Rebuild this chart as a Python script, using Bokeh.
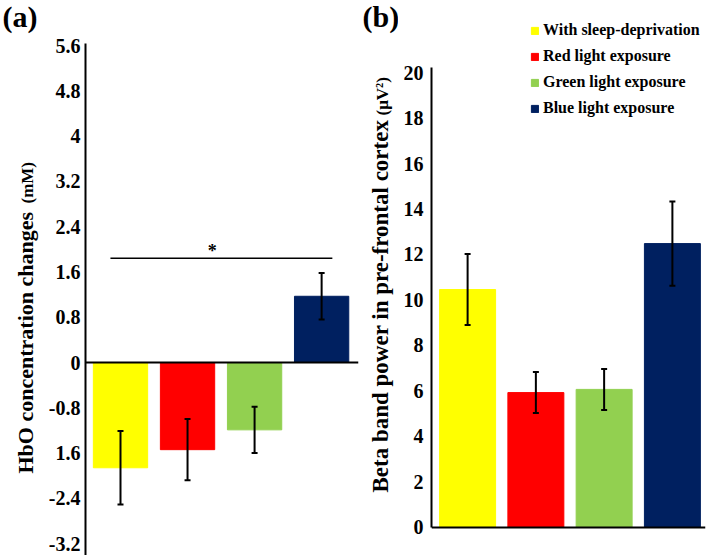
import math
from bokeh.plotting import figure
from bokeh.layouts import row
from bokeh.models import Range1d, FixedTicker, Span, Whisker, ColumnDataSource, TeeHead
from bokeh.core.properties import value
from bokeh.embed import file_html
from bokeh.resources import INLINE

# ---------------- data ----------------
conditions = ["With sleep-deprivation", "Red light exposure",
              "Green light exposure", "Blue light exposure"]
bar_colors = ["#FFFF00", "#FF0000", "#92D050", "#002060"]
positions = [1, 2, 3, 4]

hbo_mean = [-1.86, -1.54, -1.19, 1.17]
hbo_err = [0.65, 0.54, 0.41, 0.41]

beta_mean = [10.46, 5.93, 6.07, 12.48]
beta_err = [1.56, 0.90, 0.90, 1.85]

hbo_ticks = [-3.2, -2.4, -1.6, -0.8, 0, 0.8, 1.6, 2.4, 3.2, 4, 4.8, 5.6]
hbo_tick_labels = ["-3.2", "-2.4", "1.6", "-0.8", "0", "0.8", "1.6",
                   "2.4", "3.2", "4", "4.8", "5.6"]
beta_ticks = [0, 2, 4, 6, 8, 10, 12, 14, 16, 18, 20]

sig_y = 1.84
sig_x = [0.85, 4.16]
star_x = 2.37

SERIF = "Liberation Serif"
H = 555


def style_axis(p, standoff):
    ax = p.yaxis[0]
    ax.axis_line_width = 2
    ax.axis_line_color = "black"
    ax.major_tick_line_color = None
    ax.minor_tick_line_color = None
    ax.major_tick_in = 0
    ax.major_tick_out = 0
    ax.minor_tick_in = 0
    ax.minor_tick_out = 0
    ax.major_label_standoff = standoff
    ax.major_label_text_font = SERIF
    ax.major_label_text_font_style = "bold"
    ax.major_label_text_font_size = "20px"
    ax.major_label_text_color = "black"


def strip(width):
    s = figure(width=width, height=H, output_backend="svg", toolbar_location=None,
               x_range=Range1d(0, width), y_range=Range1d(0, H),
               x_axis_location=None, y_axis_location=None, title=None,
               min_border=0)
    s.grid.visible = False
    s.outline_line_color = None
    return s


def txt(p, x, y, t, size, angle=0.0):
    p.text(x=[x], y=[y], text=[t], angle=angle, text_font=value(SERIF),
           text_font_style="bold", text_font_size=size, text_align="left",
           text_baseline="alphabetic", text_color="black")


# ---------------- label strip (a) ----------------
sa = strip(42)
txt(sa, 2, 539, "(a)", "30px")
txt(sa, 25, 82, "HbO concentration changes", "22px", math.pi / 2)
txt(sa, 27, 352, "(mM)", "17px", math.pi / 2)

# ---------------- panel (a) ----------------
pa = figure(width=317, height=H, output_backend="svg", toolbar_location=None,
            x_range=Range1d(0.478, 4.55), y_range=Range1d(-3.41, 6.396),
            x_axis_location=None, title=None,
            min_border_left=43, min_border_right=1, min_border_top=0,
            min_border_bottom=0)
pa.grid.visible = False
pa.outline_line_color = None
pa.yaxis.ticker = FixedTicker(ticks=hbo_ticks)
pa.yaxis.major_label_overrides = dict(zip(hbo_ticks, hbo_tick_labels))
pa.yaxis.bounds = (-3.41, 5.636)
style_axis(pa, 5)

src_a = ColumnDataSource(dict(x=positions, top=hbo_mean, color=bar_colors,
                              upper=[m + e for m, e in zip(hbo_mean, hbo_err)],
                              lower=[m - e for m, e in zip(hbo_mean, hbo_err)]))
pa.vbar(x="x", top="top", bottom=0, width=0.81, color="color", source=src_a)
pa.add_layout(Span(location=0, dimension="width", line_color="black", line_width=2))
pa.add_layout(Whisker(source=src_a, base="x", upper="upper", lower="lower",
                      line_width=2, line_color="black", level="overlay",
                      upper_head=TeeHead(size=6, line_width=2, line_color="black"),
                      lower_head=TeeHead(size=6, line_width=2, line_color="black")))
pa.line(x=sig_x, y=[sig_y, sig_y], line_color="black", line_width=1.5)
pa.text(x=[star_x], y=[sig_y], text=["*"], text_font=value(SERIF),
        text_font_style="bold", text_font_size="18px", text_align="center",
        text_baseline="alphabetic", text_color="black", y_offset=-7)

# ---------------- label strip (b) ----------------
sb = strip(39)
txt(sb, 3, 539, "(b)", "30px")
txt(sb, 21, 63, "Beta band power in pre-frontal cortex", "23px", math.pi / 2)
txt(sb, 23, 440, "(μV²)", "17px", math.pi / 2)

# ---------------- panel (b) ----------------
pb = figure(width=314, height=H, output_backend="svg", toolbar_location=None,
            x_range=Range1d(0.471, 4.485), y_range=Range1d(-1.231, 23.165),
            x_axis_location=None, title=None,
            min_border_left=33, min_border_right=7, min_border_top=0,
            min_border_bottom=0)
pb.grid.visible = False
pb.outline_line_color = None
pb.yaxis.ticker = FixedTicker(ticks=beta_ticks)
pb.yaxis.bounds = (0, 20.22)
style_axis(pb, 8)

src_b = ColumnDataSource(dict(x=positions, top=beta_mean, color=bar_colors,
                              label=conditions,
                              upper=[m + e for m, e in zip(beta_mean, beta_err)],
                              lower=[m - e for m, e in zip(beta_mean, beta_err)]))
pb.vbar(x="x", top="top", bottom=0, width=0.82, color="color", source=src_b,
        legend_field="label")
pb.add_layout(Span(location=0, dimension="width", line_color="black", line_width=2))
pb.add_layout(Whisker(source=src_b, base="x", upper="upper", lower="lower",
                      line_width=2, line_color="black", level="overlay",
                      upper_head=TeeHead(size=6, line_width=2, line_color="black"),
                      lower_head=TeeHead(size=6, line_width=2, line_color="black")))

lg = pb.legend[0]
lg.location = (99, 437)
lg.glyph_width = 9
lg.glyph_height = 9
lg.label_height = 20
lg.spacing = 6
lg.padding = 0
lg.margin = 0
lg.label_standoff = 4
lg.border_line_color = None
lg.background_fill_alpha = 0
lg.label_text_font = SERIF
lg.label_text_font_style = "bold"
lg.label_text_font_size = "16px"
lg.label_text_color = "black"

layout = row(sa, pa, sb, pb)
open("out.html", "w").write(file_html(layout, INLINE))
